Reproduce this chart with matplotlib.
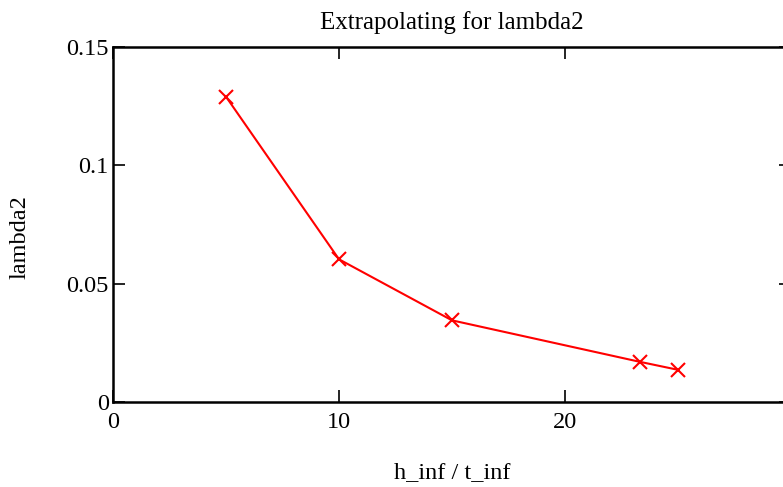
import matplotlib
matplotlib.use("Agg")
import matplotlib.pyplot as plt

x_vals = [5, 10, 15, 23.3, 25]
y_vals = [0.129, 0.0603, 0.0345, 0.017, 0.0136]
x_ticks = [0, 10, 20]
y_ticks = [0, 0.05, 0.1, 0.15]
y_tick_labels = ["0", "0.05", "0.1", "0.15"]

plt.rcParams['font.family'] = ['Liberation Serif', 'DejaVu Serif']

fig = plt.figure(figsize=(7.83, 4.87), dpi=100)
ax = fig.add_axes([113/783, (487-402)/487, (791-113)/783, (402-47)/487])

ax.plot(x_vals, y_vals, color='red', linewidth=1.5, marker='x', markersize=10,
        markeredgewidth=1.5, clip_on=False)

ax.set_xlim(0, 30)
ax.set_ylim(0, 0.15)
ax.set_xticks(x_ticks)
ax.set_yticks(y_ticks)
ax.set_yticklabels(y_tick_labels)
ax.tick_params(direction='in', length=8.5, width=1.2, top=True, right=True,
               labelsize=17.5)
ax.tick_params(axis='x', pad=7)
ax.tick_params(axis='y', pad=3)
for s in ax.spines.values():
    s.set_linewidth(1.8)

ax.set_title("Extrapolating for lambda2", fontsize=18, pad=13)
ax.set_xlabel("h_inf / t_inf", fontsize=17.5, labelpad=21)
fig.text(20/783, 1 - 237/487, "lambda2", rotation=90, ha='center', va='center',
         fontsize=17.5)

fig.savefig("out.png", dpi=100)
